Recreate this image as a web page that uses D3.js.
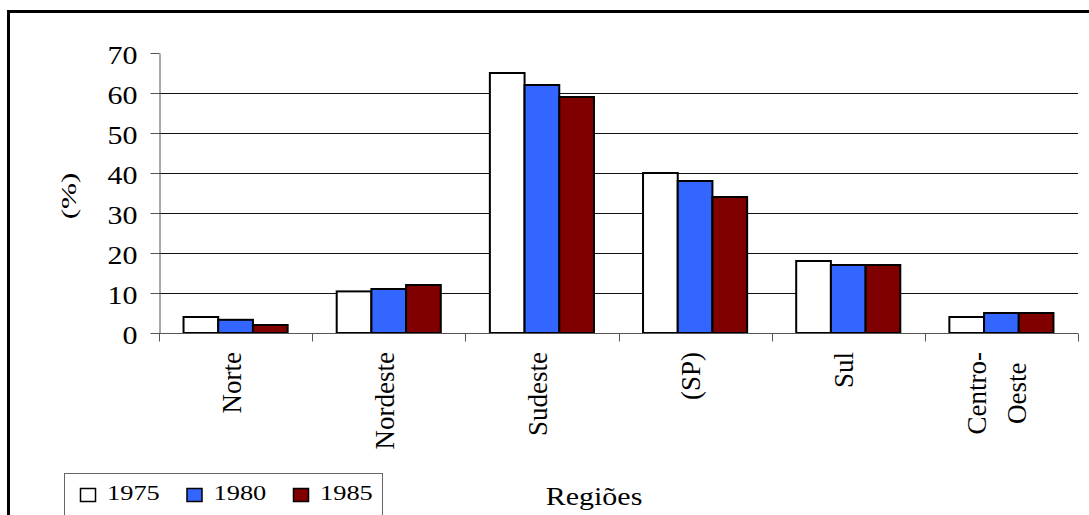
<!DOCTYPE html>
<html>
<head>
<meta charset="utf-8">
<script src="https://cdn.jsdelivr.net/npm/d3@7"></script>
<style>
  html, body { margin: 0; padding: 0; background: #fff; }
  svg { display: block; }
  text { font-family: "Liberation Serif", "Times New Roman", serif; fill: #000; }
</style>
</head>
<body>
<svg id="chart" width="1089" height="515"></svg>
<script>
// Participação regional (%) por ano
const regions = ["Norte", "Nordeste", "Sudeste", "(SP)", "Sul", "Centro-\nOeste"];
const years = ["1975", "1980", "1985"];
const values1975 = [4, 10.4, 65, 40, 18, 4];
const values1980 = [3.3, 11, 62, 38, 17, 5];
const values1985 = [2, 12, 59, 34, 17, 5];
const yTicks = [0, 10, 20, 30, 40, 50, 60, 70];
const colors = ["#FFFFFF", "#3366FF", "#800000"];

const seriesValues = [values1975, values1980, values1985];

const svg = d3.select("#chart");

// outer frame
svg.append("rect")
  .attr("x", 8.5).attr("y", 11.5)
  .attr("width", 1200).attr("height", 600)
  .attr("fill", "none").attr("stroke", "#000").attr("stroke-width", 3);

const plot = { left: 159, right: 1078, top: 53, bottom: 333 };

const y = d3.scaleLinear().domain([0, 70]).range([plot.bottom, plot.top]);
const x0 = d3.scaleBand().domain(d3.range(regions.length))
  .range([plot.left, plot.right]).paddingInner(0).paddingOuter(0);
const x1 = d3.scaleBand().domain(years)
  .range([0, x0.bandwidth()]).paddingInner(0).paddingOuter(0.707);

// gridlines
svg.append("g").selectAll("line")
  .data(yTicks.filter(t => t > 0 && t < 70))
  .join("line")
  .attr("x1", plot.left).attr("x2", plot.right)
  .attr("y1", d => Math.round(y(d)) + 0.5).attr("y2", d => Math.round(y(d)) + 0.5)
  .attr("stroke", "#111").attr("stroke-width", 1);

// bars
const groups = svg.append("g").selectAll("g")
  .data(regions.map((r, i) => i))
  .join("g")
  .attr("transform", i => `translate(${x0(i)},0)`);

groups.selectAll("rect")
  .data(i => years.map((yr, s) => ({ yr, s, v: seriesValues[s][i] })))
  .join("rect")
  .attr("x", d => x1(d.yr))
  .attr("width", x1.bandwidth())
  .attr("y", d => y(d.v))
  .attr("height", d => y(0) - y(d.v))
  .attr("fill", d => colors[d.s])
  .attr("stroke", "#000")
  .attr("stroke-width", 2);

// y axis
const yAxis = svg.append("g")
  .attr("transform", `translate(${plot.left + 0.5},0)`)
  .call(d3.axisLeft(y).tickValues(yTicks).tickSize(9).tickSizeOuter(0).tickPadding(12));
yAxis.select(".domain").attr("stroke", "#555");
yAxis.selectAll(".tick line").attr("stroke", "#555");
yAxis.selectAll(".tick text")
  .attr("font-size", 25)
  .attr("font-family", "Liberation Serif")
  .attr("x", null).attr("dy", null)
  .attr("text-anchor", "end")
  .attr("transform", "translate(-22,10) scale(1.2,1)");

// x axis with category ticks at band edges
const xAxisG = svg.append("g").attr("transform", `translate(0,${plot.bottom + 0.5})`);
xAxisG.append("line")
  .attr("x1", plot.left).attr("x2", plot.right)
  .attr("stroke", "#555");
const edges = d3.range(regions.length + 1).map(i => i < regions.length ? x0(i) : x0(i - 1) + x0.bandwidth());
xAxisG.selectAll("line.edge").data(edges).join("line")
  .attr("class", "edge")
  .attr("x1", d => Math.round(d) + 0.5).attr("x2", d => Math.round(d) + 0.5)
  .attr("y1", 0).attr("y2", 8)
  .attr("stroke", "#555");

// rotated category labels
const labelTop = 352;
const lineGap = 40;
regions.forEach((name, i) => {
  const lines = name.split("\n");
  const cx = x0(i) + x0.bandwidth() / 2;
  const texts = lines.map((ln, k) => {
    const bx = cx + 5 + (k - (lines.length - 1) / 2) * lineGap;
    return svg.append("text")
      .attr("font-size", 27)
      .attr("transform", `translate(${bx},${labelTop}) rotate(-90)`)
      .text(ln);
  });
  if (lines.length === 1) {
    texts[0].attr("text-anchor", "end");
  } else {
    const maxLen = d3.max(texts, t => t.node().getComputedTextLength());
    texts.forEach(t => t.attr("text-anchor", "middle").attr("x", -maxLen / 2));
  }
});

// axis titles
svg.append("text")
  .attr("font-size", 24)
  .attr("text-anchor", "middle")
  .attr("transform", "translate(76,196) rotate(-90) scale(1.3,0.86)")
  .text("(%)");

svg.append("text")
  .attr("font-size", 25)
  .attr("text-anchor", "middle")
  .attr("transform", "translate(594,505) scale(1.2,1)")
  .text("Regiões");

// legend
const legend = svg.append("g");
legend.append("rect")
  .attr("x", 64.5).attr("y", 473.5)
  .attr("width", 318).attr("height", 80)
  .attr("fill", "#fff").attr("stroke", "#666").attr("stroke-width", 1);
years.forEach((yr, s) => {
  const lx = 80 + s * 106.5;
  legend.append("rect")
    .attr("x", lx + 0.5).attr("y", 488.5)
    .attr("width", 15).attr("height", 13)
    .attr("fill", colors[s]).attr("stroke", "#000").attr("stroke-width", 1.5);
  legend.append("text")
    .attr("font-size", 22)
    .attr("transform", `translate(${lx + 27},500) scale(1.2,1)`)
    .text(yr);
});
</script>
</body>
</html>
